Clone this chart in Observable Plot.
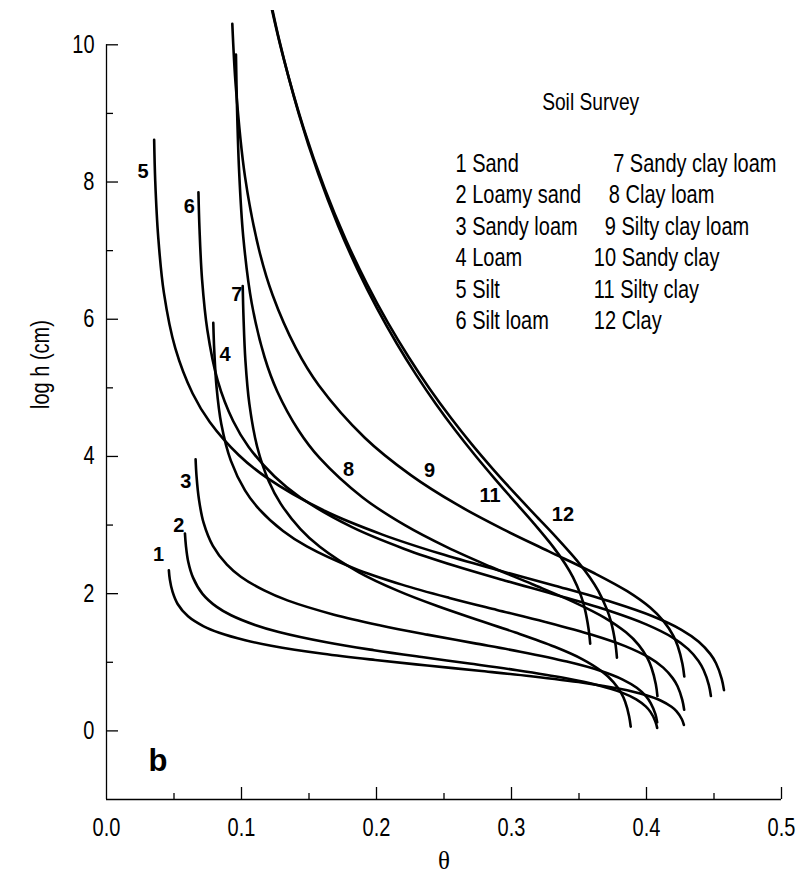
<!DOCTYPE html>
<html><head><meta charset="utf-8">
<script src="https://cdn.jsdelivr.net/npm/d3@7"></script>
<script src="https://cdn.jsdelivr.net/npm/@observablehq/plot@0.6"></script>
<style>body{margin:0;background:#fff}</style>
</head><body><div id="chart"></div>
<script>
// Soil classes (legend)
const soilNames = ["Sand","Loamy sand","Sandy loam","Loam","Silt","Silt loam",
  "Sandy clay loam","Clay loam","Silty clay loam","Sandy clay","Silty clay","Clay"];

// Retention curves: [theta, log h (cm)]
const c1 = [[0.0462,2.340],[0.0469,2.208],[0.0489,2.029],[0.0527,1.850],[0.0604,1.670],[0.0720,1.524],[0.0835,1.430],[0.1028,1.321],[0.1220,1.242],[0.1605,1.124],[0.1990,1.033],[0.2375,0.953],[0.2760,0.876],[0.3145,0.796],[0.3530,0.701],[0.3800,0.613],[0.3992,0.523],[0.4108,0.440],[0.4185,0.352],[0.4223,0.285],[0.4262,0.170],[0.4277,0.087]];
const c2 = [[0.0581,2.878],[0.0588,2.704],[0.0605,2.469],[0.0641,2.234],[0.0711,1.998],[0.0817,1.807],[0.0923,1.685],[0.1100,1.544],[0.1276,1.441],[0.1629,1.291],[0.1982,1.176],[0.2335,1.076],[0.2688,0.982],[0.3041,0.884],[0.3394,0.770],[0.3641,0.665],[0.3818,0.558],[0.3924,0.460],[0.3994,0.357],[0.4029,0.277],[0.4065,0.142],[0.4079,0.044]];
const c3 = [[0.0660,3.960],[0.0667,3.710],[0.0685,3.372],[0.0719,3.034],[0.0788,2.696],[0.0892,2.422],[0.0995,2.247],[0.1168,2.047],[0.1340,1.902],[0.1685,1.694],[0.2030,1.537],[0.2375,1.403],[0.2720,1.279],[0.3065,1.154],[0.3410,1.010],[0.3652,0.880],[0.3824,0.748],[0.3928,0.628],[0.3997,0.503],[0.4031,0.406],[0.4066,0.243],[0.4079,0.125]];
const c4 = [[0.0791,5.949],[0.0798,5.553],[0.0815,5.015],[0.0850,4.478],[0.0921,3.940],[0.1026,3.506],[0.1132,3.229],[0.1308,2.913],[0.1484,2.688],[0.1836,2.368],[0.2188,2.132],[0.2540,1.938],[0.2892,1.763],[0.3244,1.592],[0.3596,1.402],[0.3842,1.236],[0.4018,1.070],[0.4124,0.922],[0.4194,0.769],[0.4230,0.651],[0.4265,0.452],[0.4279,0.308]];
const c5 = [[0.0353,8.614],[0.0361,8.015],[0.0383,7.201],[0.0425,6.388],[0.0510,5.574],[0.0638,4.917],[0.0766,4.499],[0.0979,4.022],[0.1192,3.684],[0.1618,3.205],[0.2044,2.861],[0.2470,2.584],[0.2896,2.344],[0.3322,2.116],[0.3748,1.875],[0.4046,1.671],[0.4259,1.474],[0.4387,1.300],[0.4472,1.122],[0.4515,0.986],[0.4557,0.759],[0.4574,0.594]];
const c6 = [[0.0681,7.852],[0.0689,7.311],[0.0708,6.577],[0.0747,5.843],[0.0823,5.109],[0.0938,4.516],[0.1053,4.139],[0.1245,3.708],[0.1436,3.402],[0.1819,2.969],[0.2202,2.656],[0.2585,2.403],[0.2968,2.182],[0.3351,1.970],[0.3734,1.743],[0.4002,1.549],[0.4194,1.360],[0.4309,1.192],[0.4385,1.020],[0.4423,0.888],[0.4462,0.668],[0.4477,0.508]];
const c7 = [[0.1009,6.485],[0.1015,6.023],[0.1029,5.396],[0.1058,4.769],[0.1116,4.142],[0.1203,3.635],[0.1290,3.313],[0.1435,2.945],[0.1580,2.683],[0.1870,2.311],[0.2160,2.040],[0.2450,1.819],[0.2740,1.623],[0.3030,1.433],[0.3320,1.226],[0.3523,1.047],[0.3668,0.869],[0.3755,0.712],[0.3813,0.549],[0.3842,0.424],[0.3871,0.214],[0.3883,0.062]];
const c8 = [[0.0959,9.859],[0.0966,9.143],[0.0982,8.173],[0.1013,7.202],[0.1076,6.231],[0.1171,5.446],[0.1265,4.948],[0.1423,4.379],[0.1580,3.975],[0.1895,3.406],[0.2210,2.998],[0.2525,2.674],[0.2840,2.396],[0.3155,2.138],[0.3470,1.870],[0.3691,1.648],[0.3848,1.436],[0.3943,1.251],[0.4006,1.063],[0.4037,0.920],[0.4069,0.681],[0.4081,0.508]];
const c9 = [[0.0932,10.305],[0.0958,9.387],[0.1026,8.078],[0.1129,7.021],[0.1231,6.349],[0.1402,5.582],[0.1572,5.038],[0.1913,4.273],[0.2254,3.728],[0.2595,3.300],[0.2936,2.941],[0.3277,2.617],[0.3618,2.294],[0.3857,2.036],[0.4027,1.797],[0.4129,1.593],[0.4198,1.389],[0.4232,1.234],[0.4266,0.977],[0.4280,0.792]];
const c11 = [[0.1193,10.852],[0.1280,10.065],[0.1425,8.991],[0.1570,8.111],[0.1715,7.367],[0.1860,6.723],[0.2005,6.154],[0.2150,5.646],[0.2295,5.186],[0.2440,4.765],[0.2585,4.378],[0.2730,4.017],[0.2875,3.677],[0.3020,3.350],[0.3165,3.025],[0.3310,2.679],[0.3397,2.437],[0.3455,2.241],[0.3513,1.979],[0.3542,1.790],[0.3571,1.486],[0.3583,1.272]];
const c12 = [[0.1210,10.648],[0.1304,9.861],[0.1460,8.787],[0.1616,7.907],[0.1772,7.163],[0.1928,6.519],[0.2084,5.950],[0.2240,5.442],[0.2396,4.981],[0.2552,4.561],[0.2708,4.173],[0.2864,3.813],[0.3020,3.473],[0.3176,3.146],[0.3332,2.821],[0.3488,2.475],[0.3582,2.233],[0.3644,2.037],[0.3706,1.775],[0.3738,1.586],[0.3769,1.282],[0.3781,1.068]];

// Curve number labels on the plot: [label, theta, log h]
const curveLabels = [["1",0.0385,2.571],["2",0.0536,2.994],["3",0.0587,3.633],["4",0.0878,5.487],
  ["5",0.0270,8.157],["6",0.0613,7.647],["7",0.0965,6.366],["8",0.1793,3.810],["9",0.2393,3.796],
  ["11",0.2842,3.427],["12",0.3381,3.147]];

// Ticks
const xMajor = [0, 0.1, 0.2, 0.3, 0.4, 0.5];
const xMinor = [0.05, 0.15, 0.25, 0.35, 0.45];
const yMajor = [0, 2, 4, 6, 8, 10];
const yMinor = [1, 3, 5, 7, 9];

const curves = {"1":c1,"2":c2,"3":c3,"4":c4,"5":c5,"6":c6,"7":c7,"8":c8,"9":c9,"11":c11,"12":c12};
const rows = Object.entries(curves).flatMap(([id, pts]) => pts.map(([t, h]) => ({id, theta: t, logh: h})));

// Legend layout (theta / log h coordinates inside the frame)
const col2X = [0.3753, 0.3721, 0.3691, 0.3610, 0.3610, 0.3610];
const legendItems = soilNames.map((name, i) => ({
  text: `${i + 1} ${name}`,
  x: i < 6 ? 0.2585 : col2X[i % 6],
  y: 8.262 - (i % 6) * 0.4575
}));

const sans = "'Liberation Sans',Arial,sans-serif";
const W = 811, H = 872, mL = 106, mR = 30, mT = 10, mB = 73;
const frameW = W - mL - mR, frameH = H - mT - mB;

const chart = Plot.plot({
  width: W, height: H,
  marginLeft: mL, marginRight: mR, marginTop: mT, marginBottom: mB,
  x: {domain: [0, 0.5], axis: null},
  y: {domain: [-1, 10.5], axis: null},
  style: {fontFamily: sans, background: "white", color: "black"},
  marks: [
    Plot.ruleY([-1], {stroke: "black", strokeWidth: 1.3}),
    Plot.ruleX([0], {y1: -1, y2: d3.max(yMajor), stroke: "black", strokeWidth: 1.3}),
    Plot.tickX(xMajor.slice(1), {x: d => d, insetTop: frameH - 12, stroke: "black", strokeWidth: 1.3}),
    Plot.tickX(xMinor, {x: d => d, insetTop: frameH - 6, stroke: "black", strokeWidth: 1.3}),
    Plot.tickY(yMajor, {y: d => d, insetRight: frameW - 12, stroke: "black", strokeWidth: 1.3}),
    Plot.tickY(yMinor, {y: d => d, insetRight: frameW - 7, stroke: "black", strokeWidth: 1.3}),
    Plot.text(xMajor, {x: d => d, frameAnchor: "bottom", dy: 28, text: d => d.toFixed(1), fontSize: 25, lineAnchor: "middle"}),
    Plot.text(yMajor, {y: d => d, frameAnchor: "left", dx: -12, text: d => String(d), fontSize: 25, textAnchor: "end", lineAnchor: "middle"}),
    Plot.text(["log h (cm)"], {frameAnchor: "left", dx: -66, dy: 4, rotate: -90, fontSize: 25, lineAnchor: "middle"}),
    Plot.text(["θ"], {frameAnchor: "bottom", dy: 61, fontSize: 25, fontFamily: "'Liberation Serif','DejaVu Serif',serif", lineAnchor: "middle"}),
    Plot.line(rows, {x: "theta", y: "logh", z: "id", curve: "catmull-rom", stroke: "black", strokeWidth: 2.6, clip: true}),
    Plot.text(curveLabels, {x: d => d[1], y: d => d[2], text: d => d[0], fontSize: 20, fontWeight: "bold",
      fontFamily: sans, lineAnchor: "middle"}),
    Plot.text(["b"], {frameAnchor: "bottom-left", dx: 42, dy: -38, fontSize: 31, fontWeight: 900,
      fontFamily: sans, lineAnchor: "middle"}),
    Plot.text(["Soil Survey"], {x: 0.3227, y: 9.165, fontSize: 24, textAnchor: "start", lineAnchor: "middle"}),
    Plot.text(legendItems, {x: "x", y: "y", text: "text", fontSize: 25, textAnchor: "start", lineAnchor: "middle"})
  ]
});
document.getElementById("chart").appendChild(chart);

// Condense the regular-weight labels (the reference uses a narrow sans face):
// scale horizontally about each text's anchor point.
const squeeze = 0.8;
chart.querySelectorAll("text").forEach(t => {
  if (t.closest("g[font-family]")) return;
  const bb = t.getBBox();
  if (!bb.width) return;
  const anchor = getComputedStyle(t).textAnchor;
  const ax = anchor === "end" ? bb.x + bb.width : anchor === "middle" ? bb.x + bb.width / 2 : bb.x;
  const prev = t.getAttribute("transform") || "";
  t.setAttribute("transform", `${prev} translate(${ax},0) scale(${squeeze},1) translate(${-ax},0)`.trim());
});
</script>
</body></html>
